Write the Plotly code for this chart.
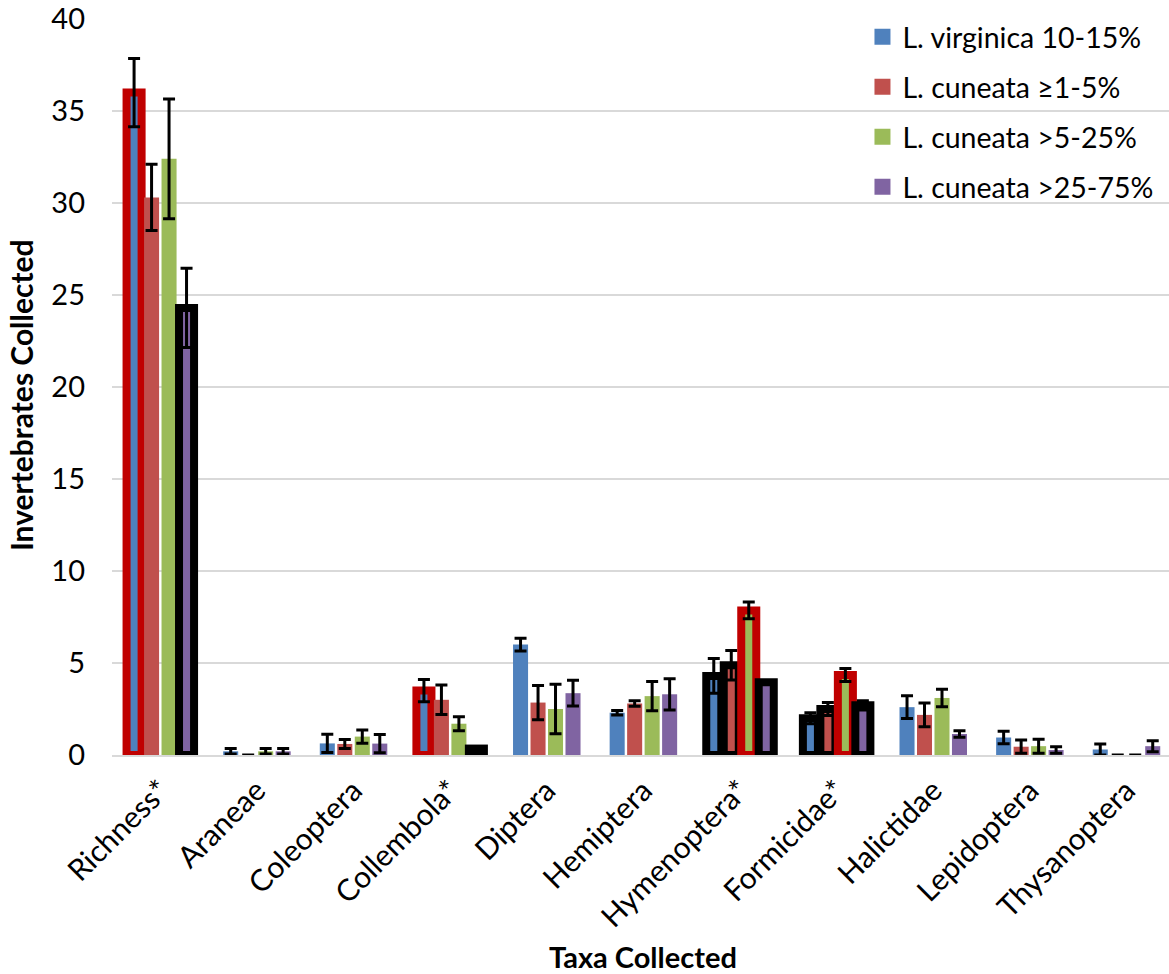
import plotly.graph_objects as go

categories = ["Richness*", "Araneae", "Coleoptera", "Collembola*", "Diptera", "Hemiptera",
              "Hymenoptera*", "Formicidae*", "Halictidae", "Lepidoptera", "Thysanoptera"]

series_names = ["L. virginica 10-15%", "L. cuneata ≥1-5%", "L. cuneata >5-25%", "L. cuneata >25-75%"]

virginica = [36.0, 0.2, 0.63, 3.5, 6.0, 2.3, 4.3, 2.0, 2.6, 0.95, 0.3]
virginica_err = [1.85, 0.15, 0.5, 0.6, 0.35, 0.12, 0.95, 0.3, 0.62, 0.34, 0.3]

cuneata_1_5 = [30.3, 0.0, 0.6, 3.0, 2.85, 2.8, 4.88, 2.5, 2.18, 0.45, 0.0]
cuneata_1_5_err = [1.8, 0.0, 0.24, 0.8, 0.93, 0.15, 0.8, 0.35, 0.64, 0.36, 0.0]

cuneata_5_25 = [32.4, 0.2, 1.0, 1.7, 2.5, 3.2, 7.86, 4.35, 3.1, 0.48, 0.0]
cuneata_5_25_err = [3.25, 0.15, 0.36, 0.38, 1.35, 0.8, 0.45, 0.35, 0.48, 0.38, 0.0]

cuneata_25_75 = [24.3, 0.2, 0.62, 0.35, 3.36, 3.3, 3.95, 2.7, 1.14, 0.27, 0.48]
cuneata_25_75_err = [2.15, 0.15, 0.5, 0.1, 0.7, 0.85, 0.0, 0.25, 0.18, 0.18, 0.3]

# highlight outlines: "r" = red outline, "k" = black outline, "" = none
virginica_hl = ["r", "", "", "r", "", "", "k", "k", "", "", ""]
cuneata_1_5_hl = ["", "", "", "", "", "", "k", "k", "", "", ""]
cuneata_5_25_hl = ["", "", "", "", "", "", "r", "r", "", "", ""]
cuneata_25_75_hl = ["k", "", "", "k", "", "", "k", "k", "", "", ""]

fill_colors = ["#4F81BD", "#C0504D", "#9BBB59", "#8064A2"]

values = [virginica, cuneata_1_5, cuneata_5_25, cuneata_25_75]
errors = [virginica_err, cuneata_1_5_err, cuneata_5_25_err, cuneata_25_75_err]
highlights = [virginica_hl, cuneata_1_5_hl, cuneata_5_25_hl, cuneata_25_75_hl]

hl_color = {"r": "#C00000", "k": "#000000", "": "rgba(255,255,255,0)"}
hl_width = {"r": 8, "k": 8, "": 0}

FONT = "Lato, Carlito, Calibri, sans-serif"

fig = go.Figure()
for name, vals, errs, hls, col in zip(series_names, values, errors, highlights, fill_colors):
    fig.add_trace(go.Bar(
        x=categories, y=vals, name=name, showlegend=False,
        marker=dict(color=col,
                    line=dict(color=[hl_color[h] for h in hls],
                              width=[hl_width[h] for h in hls])),
        error_y=dict(type="data", array=errs, visible=True,
                     color="#000000", thickness=3, width=6),
    ))

# legend entries (plain coloured squares)
for name, col in zip(series_names, fill_colors):
    fig.add_trace(go.Scatter(
        x=[None], y=[None], mode="markers", name=name, legendgroup=name,
        marker=dict(symbol="square", size=17, color=col),
    ))

fig.update_layout(
    width=1169, height=974,
    margin=dict(l=112, r=0, t=19, b=219),
    paper_bgcolor="white", plot_bgcolor="white",
    barmode="group", bargap=0.276, bargroupgap=0.14,
    font=dict(family=FONT, size=29, color="#000000"),
    legend=dict(x=0.71, y=1.01, xanchor="left", yanchor="top",
                font=dict(size=28.5), tracegroupgap=10, bgcolor="rgba(0,0,0,0)",
                itemwidth=30),
    showlegend=True,
    annotations=[
        dict(text="<b>Invertebrates Collected</b>", xref="paper", yref="paper",
             x=-0.0861, y=0.489, xanchor="center", yanchor="middle", textangle=-90,
             showarrow=False, font=dict(size=30, family=FONT)),
        dict(text="<b>Taxa Collected</b>", xref="paper", yref="paper",
             x=0.502, y=-0.274, xanchor="center", yanchor="middle",
             showarrow=False, font=dict(size=29, family=FONT)),
    ],
)
fig.update_yaxes(range=[0, 40], dtick=5, showgrid=True, gridcolor="#D9D9D9", gridwidth=1.5,
                 zeroline=False, showline=False, ticks="", automargin=False,
                 ticklabelstandoff=26, tickfont=dict(size=29))
fig.update_xaxes(tickangle=-45, showline=True, linecolor="#D9D9D9", linewidth=2,
                 ticks="", tickfont=dict(size=30), automargin=False,
                 range=[-0.5, 10.44], ticklabelstandoff=4)

fig.write_html("out.html", config={"displayModeBar": False},
               post_script="document.body.style.margin='0px';")
